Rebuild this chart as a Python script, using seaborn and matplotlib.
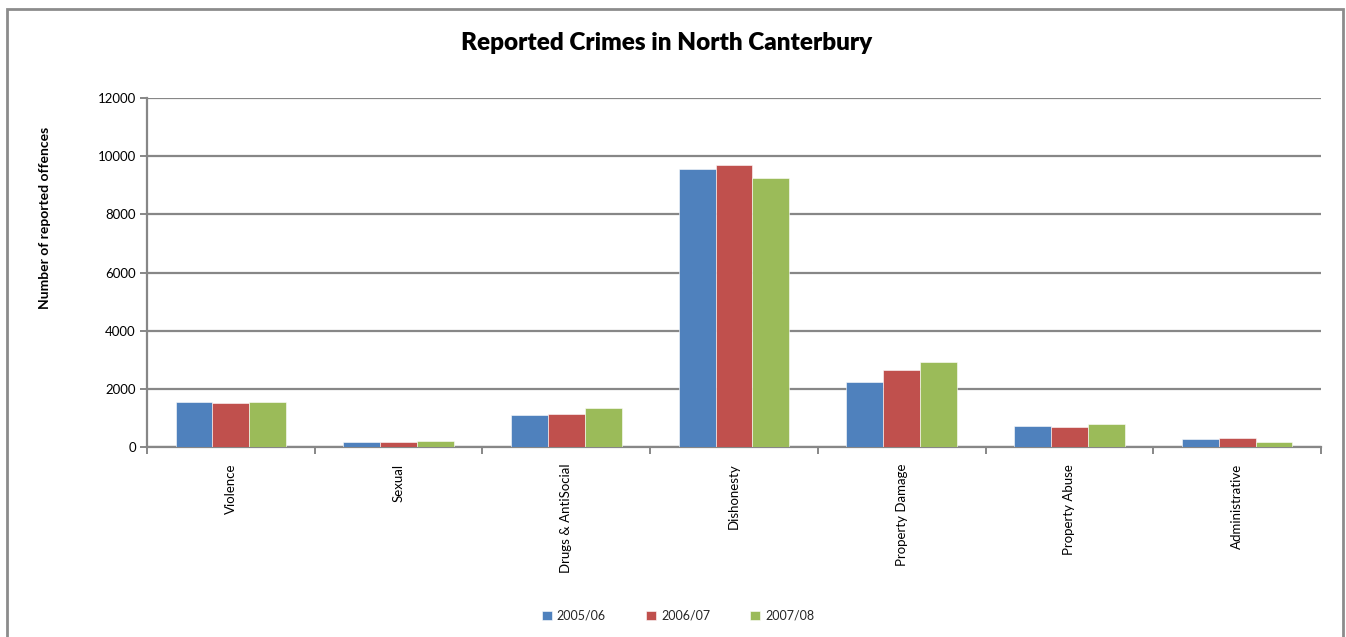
import matplotlib
matplotlib.use("Agg")
import matplotlib.pyplot as plt
import seaborn as sns
import pandas as pd
import numpy as np
from matplotlib.patches import Rectangle

categories = ["Violence", "Sexual", "Drugs & AntiSocial", "Dishonesty",
              "Property Damage", "Property Abuse", "Administrative"]
years = ["2005/06", "2006/07", "2007/08"]
offences_2005 = [1550, 175, 1090, 9560, 2235, 730, 265]
offences_2006 = [1520, 170, 1135, 9690, 2650, 700, 310]
offences_2007 = [1560, 215, 1330, 9240, 2910, 780, 180]
colors = ["#4F81BD", "#C0504D", "#9BBB59"]
y_ticks = [0, 2000, 4000, 6000, 8000, 10000, 12000]

df = pd.DataFrame({
    "category": categories * 3,
    "year": [years[0]] * 7 + [years[1]] * 7 + [years[2]] * 7,
    "count": offences_2005 + offences_2006 + offences_2007,
})

sns.set_theme(style="white")
plt.rcParams["font.family"] = ["Lato", "DejaVu Sans"]

W, H = 1346, 637
fig = plt.figure(figsize=(W / 100, H / 100), dpi=100)
ax = fig.add_axes([147 / W, 1 - 447 / H, (1321 - 147) / W, (447 - 98) / H])

sns.barplot(data=df, x="category", y="count", hue="year", palette=colors,
            order=categories, hue_order=years, width=0.66, ax=ax,
            edgecolor="white", linewidth=0.4, saturation=1, zorder=3)

grid_c = "#878787"
ax.set_ylim(0, 12000)
ax.set_xlim(-0.5, len(categories) - 0.5)
ax.set_yticks(y_ticks)
ax.set_yticklabels([str(v) for v in y_ticks], fontsize=9.5, color="black")
ax.yaxis.grid(True, color=grid_c, linewidth=1.6, zorder=0)
ax.set_axisbelow(True)
for s in ["top", "right"]:
    ax.spines[s].set_visible(False)
for s in ["left", "bottom"]:
    ax.spines[s].set_color(grid_c)
    ax.spines[s].set_linewidth(1.6)
ax.tick_params(axis="y", which="major", left=True, length=5, width=1.4,
               color=grid_c, pad=3)

# category labels at centres, tick marks at category boundaries
ax.set_xticks(np.arange(len(categories)))
ax.set_xticklabels(categories, rotation=90, fontsize=9.5, color="black",
                   va="top", ha="center")
ax.tick_params(axis="x", which="major", length=0, pad=12)
ax.set_xticks(np.arange(len(categories) + 1) - 0.5, minor=True)
ax.tick_params(axis="x", which="minor", bottom=True, length=5, width=1.4,
               color=grid_c)
ax.set_xlabel("")
ax.set_ylabel("")

fig.text(45 / W, 1 - 218 / H, "Number of reported offences", rotation=90,
         fontsize=10, fontweight="bold", color="black",
         ha="center", va="center")
fig.text(667 / W, 1 - 43 / H, "Reported Crimes in North Canterbury",
         fontsize=17.5, fontweight="heavy", color="black",
         ha="center", va="center")

handles, labels = ax.get_legend_handles_labels()
ax.get_legend().remove()
fig.legend(handles, labels, loc="center", bbox_to_anchor=(678 / W, 1 - 616 / H),
           ncol=3, frameon=False, fontsize=9, handlelength=0.8,
           handleheight=0.8, columnspacing=3.2, handletextpad=0.4)

fig.patches.append(Rectangle((7 / W, -0.01), (1343 - 7) / W, 1 - 9 / H + 0.01,
                             transform=fig.transFigure, fill=False,
                             edgecolor="#8C8C8C", linewidth=2))

fig.savefig("out.png", dpi=100, facecolor="white")
